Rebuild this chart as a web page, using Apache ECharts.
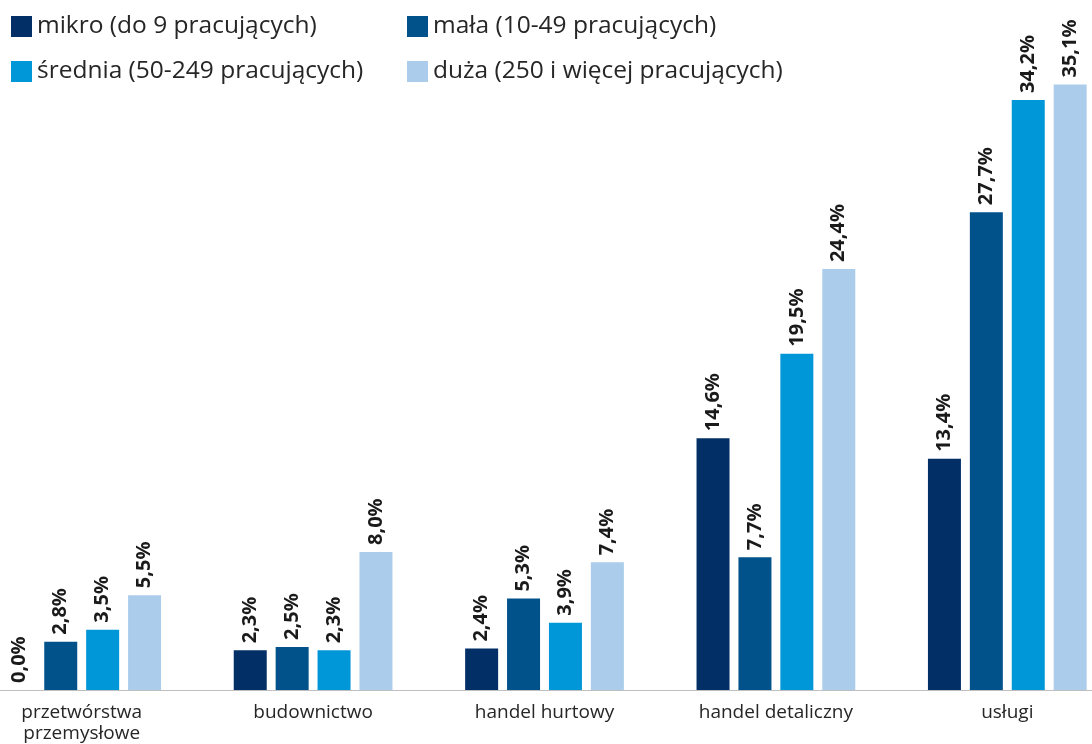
<!DOCTYPE html>
<html>
<head>
<meta charset="utf-8">
<script src="https://cdn.jsdelivr.net/npm/echarts@6/dist/echarts.min.js"></script>
<style>
  html, body { margin: 0; padding: 0; background: #fff; }
  #chart { width: 1092px; height: 744px; }
</style>
</head>
<body>
<div id="chart"></div>
<script>
const categories = ['przetwórstwa\nprzemysłowe', 'budownictwo', 'handel hurtowy', 'handel detaliczny', 'usługi']
const seriesNames = [
  'mikro (do 9 pracujących)',
  'mała (10-49 pracujących)',
  'średnia (50-249 pracujących)',
  'duża (250 i więcej pracujących)'
]
const mikro = [0.0, 2.3, 2.4, 14.6, 13.4]
const mala = [2.8, 2.5, 5.3, 7.7, 27.7]
const srednia = [3.5, 2.3, 3.9, 19.5, 34.2]
const duza = [5.5, 8.0, 7.4, 24.4, 35.1]
const colors = ['#022f66', '#01528b', '#0097d9', '#abcdeb']

const font = 'Open Sans'

const chart = echarts.init(document.getElementById('chart'))

const makeSeries = (name, data, color) => ({
  name,
  type: 'bar',
  data,
  barWidth: 33,
  barGap: '27%',
  itemStyle: { color },
  label: {
    show: true,
    position: 'top',
    rotate: 90,
    align: 'left',
    verticalAlign: 'middle',
    distance: 7,
    fontFamily: font,
    fontWeight: 'bold',
    fontSize: 20,
    color: '#1a1a1a',
    formatter: p => p.value.toFixed(1).replace('.', ',') + '%'
  }
})

const legendBase = {
  orient: 'vertical',
  top: 9,
  itemWidth: 21,
  itemHeight: 21,
  itemGap: 20,
  icon: 'rect',
  textStyle: { fontFamily: font, fontSize: 24.5, color: '#262626' }
}

const option = {
  animation: false,
  backgroundColor: '#fff',
  legend: [
    Object.assign({}, legendBase, { left: 6, data: [seriesNames[0], seriesNames[2]] }),
    Object.assign({}, legendBase, { left: 402, data: [seriesNames[1], seriesNames[3]] })
  ],
  grid: { left: -34, right: -31, top: 0, bottom: 54, outerBoundsMode: 'none' },
  xAxis: {
    type: 'category',
    data: categories,
    axisLine: { lineStyle: { color: '#bfbfbf', width: 1 } },
    axisTick: { show: false },
    axisLabel: {
      interval: 0,
      margin: 12,
      fontFamily: font,
      fontSize: 19,
      color: '#262626',
      lineHeight: 21
    }
  },
  yAxis: {
    type: 'value',
    min: 0,
    max: 40,
    show: false
  },
  series: [
    makeSeries(seriesNames[0], mikro, colors[0]),
    makeSeries(seriesNames[1], mala, colors[1]),
    makeSeries(seriesNames[2], srednia, colors[2]),
    makeSeries(seriesNames[3], duza, colors[3])
  ]
}

chart.setOption(option)
</script>
</body>
</html>
